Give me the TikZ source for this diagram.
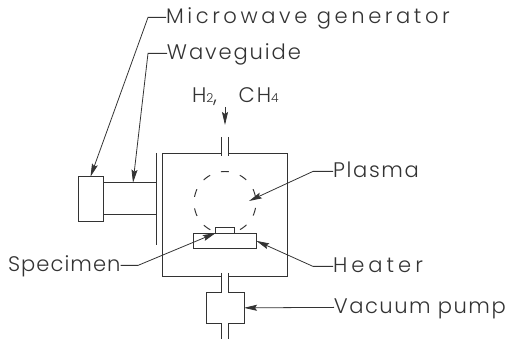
\documentclass[tikz,border=0pt]{standalone}
\usepackage{fontspec}
\usetikzlibrary{arrows.meta}
\newfontfamily\cadfont{Poppins Light}
\newcommand{\spaced}[1]{\addfontfeatures{LetterSpace=#1}}
\definecolor{ink}{gray}{0.2}
\tikzset{
  wall/.style={draw=ink,line width=0.55pt},
  part/.style={wall,fill=white,inner sep=0pt,outer sep=0pt},
  leader/.style={draw=ink,line width=0.45pt},
  pointer/.style={leader,-{Stealth[length=2.6mm,width=1.2mm,inset=0.4mm]}},
  tag/.style={inner sep=0pt,outer sep=0pt,text=ink,text height=8.5pt,text depth=1pt,font=\cadfont\fontsize{12}{14}\selectfont}
}
\begin{document}
\begin{tikzpicture}
\useasboundingbox (0,0) rectangle (10.18,6.82);

% chamber with its two pipe stubs
\draw[wall] (4.434,3.76) -- (3.24,3.76) -- (3.24,1.286) -- (4.434,1.286);
\draw[wall] (4.566,3.76) -- (5.75,3.76) -- (5.75,1.286) -- (4.566,1.286);
\draw[wall] (4.434,4.08) -- (4.434,3.70);
\draw[wall] (4.566,4.08) -- (4.566,3.70);
\draw[wall] (4.434,1.36) -- (4.434,0.98);
\draw[wall] (4.566,1.36) -- (4.566,0.98);

% plasma ball
\draw[wall,dash pattern=on 0.16cm off 0.23cm,dash phase=0.275cm] (4.5,2.77) circle (0.62);

% parts
\draw[wall] (3.12,3.76) -- (3.12,1.91);
\node[part,minimum width=1.06cm,minimum height=0.64cm] (waveguide) at (2.59,2.846) {};
\node[part,minimum width=0.5cm,minimum height=0.886cm] (generator) at (1.81,2.843) {};
\node[part,minimum width=1.252cm,minimum height=0.314cm] (heater) at (4.5,2.003) {};
\node[part,minimum width=0.372cm,minimum height=0.12cm] (specimen) at (4.5,2.22) {};
\node[part,minimum width=0.76cm,minimum height=0.634cm] (pump) at (4.5,0.663) {};
\draw[draw=white,line width=1.2pt] (4.5,0.98) ++(-0.06,0) -- ++(0.12,0);
\draw[draw=white,line width=1.2pt] (4.5,0.346) ++(-0.06,0) -- ++(0.12,0);
\draw[wall] (4.434,0.346) -- (4.434,0.04);
\draw[wall] (4.566,0.346) -- (4.566,0.04);

% labels
\node[tag,anchor=west] (microwave) at (3.32,6.472) {\spaced{17}Microwave generator};
\node[tag,anchor=west] (guide) at (3.34,5.752) {\spaced{9}Waveguide};
\node[tag,anchor=west] (plasma) at (6.66,3.392) {\spaced{8}Plasma};
\node[tag,anchor=west] (heatertag) at (6.66,1.492) {\spaced{19}Heater};
\node[tag,anchor=west] (vacuum) at (6.68,0.672) {\spaced{7}Vacuum pump};
\node[tag,anchor=west] (specimentag) at (0.16,1.512) {\spaced{5}Specimen};
\node[tag,anchor=west] (gas) at (3.84,4.9) {\spaced{9}H{\fontsize{7}{8}\selectfont 2}, \hspace{8pt}CH{\fontsize{7}{8}\selectfont 4}};

% leaders
\coordinate (microbend) at (2.96,6.472);
\coordinate (guidebend) at (2.96,5.752);
\coordinate (guidetip) at (2.66,3.166);
\coordinate (plasmabend) at (6.26,3.392);
\coordinate (plasmatip) at (4.98,2.8);
\coordinate (heaterbend) at (6.26,1.492);
\coordinate (specimenbend) at (2.76,1.512);
\coordinate (gastop) at (4.5,4.68);
\coordinate (gasend) at (4.5,4.32);

\draw[pointer] (microwave.west) -- (microbend) -- (generator.north);
\draw[pointer] (guide.west) -- (guidebend) -- (guidetip);
\draw[pointer] (plasma.west) -- (plasmabend) -- (plasmatip);
\draw[pointer] (heatertag.west) -- (heaterbend) -- (heater.east);
\draw[pointer] (vacuum.west) -- (pump.east);
\draw[pointer] (specimentag.east) -- (specimenbend) -- (specimen.south west);
\draw[pointer] (gastop) -- (gasend);
\end{tikzpicture}
\end{document}
